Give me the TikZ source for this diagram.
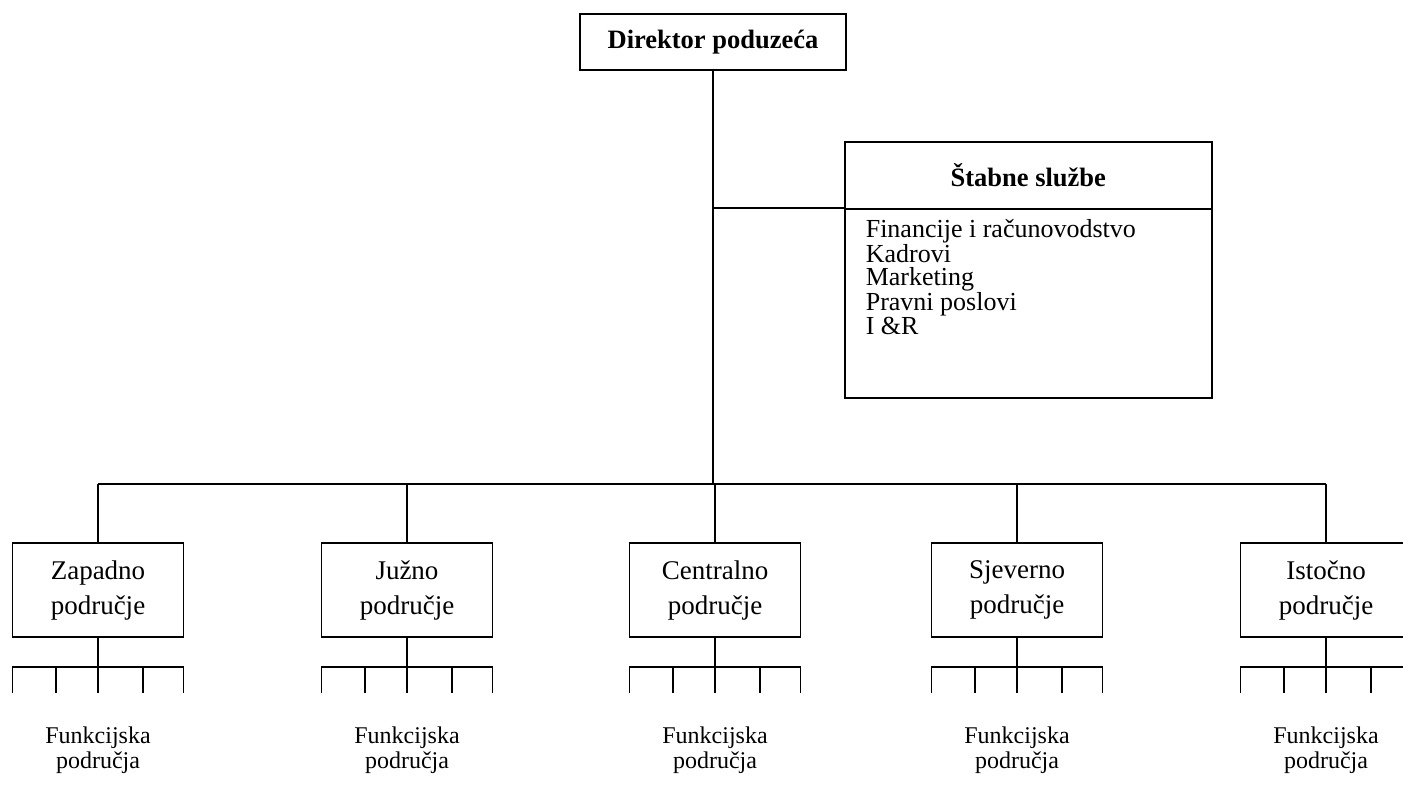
\documentclass[tikz,border=0pt]{standalone}
\usepackage{fontspec}
\setmainfont{Liberation Serif}
\begin{document}
\begin{tikzpicture}[x=1pt, y=-1pt, line width=1.6pt,
    regionbox/.style={draw, minimum width=171pt, minimum height=94pt, align=center,
      inner sep=0pt, font=\fontsize{27}{35}\selectfont},
    headbox/.style={draw, align=center, inner sep=0pt,
      font=\fontsize{26.5}{30}\selectfont\bfseries},
    funclabel/.style={align=center, inner sep=0pt, font=\fontsize{24}{24.5}\selectfont}]
    \useasboundingbox (0,0) rectangle (1403,787);
    \clip (0,0) rectangle (1403,787);

    % top of the chart
    \node[headbox, minimum width=266pt, minimum height=56pt] (dir) at (713,42) {Direktor poduzeća};

    \node[headbox, minimum width=367pt, minimum height=67pt, anchor=north west] (stabhead) at (844,141) {Štabne službe};
    \node[draw, minimum width=367pt, minimum height=189pt, anchor=north west, inner sep=0pt] (stab) at (844,208) {};
    \node[anchor=north west, align=left, inner sep=0pt, font=\fontsize{26}{23.5}\selectfont] (stablist) at (865,219)
        {Financije i računovodstvo\\Kadrovi\\Marketing\\Pravni poslovi\\I \&R};

    \coordinate (bus) at (713,484);
    \draw (dir.south) -- (bus);
    \draw (dir.south |- stab.north west) -- (stab.north west);

    % regions
    \foreach \cx/\ta/\tb [count=\i] in {98/Zapadno/područje, 407/Južno/područje,
        715/Centralno/područje, 1017/Sjeverno/područje, 1326/Istočno/područje} {
        \node[regionbox] (reg\i) at (\cx,590) {\ta\\\tb};
        \coordinate (top\i) at (\cx,484);
        \coordinate (sub\i) at (\cx,667);
        \draw (top\i) -- (reg\i.north);
        \draw (reg\i.south) -- (sub\i);
        \draw (\cx-85.5,693) -- (\cx-85.5,667) -- (\cx+85.5,667) -- (\cx+85.5,693);
        \foreach \dx in {-42,0,45}
            \draw (\cx+\dx,667) -- (\cx+\dx,693);
        \node[funclabel] (func\i) at (\cx,750) {Funkcijska\\područja};
    }
    \draw (top1) -- (top5);
\end{tikzpicture}
\end{document}
